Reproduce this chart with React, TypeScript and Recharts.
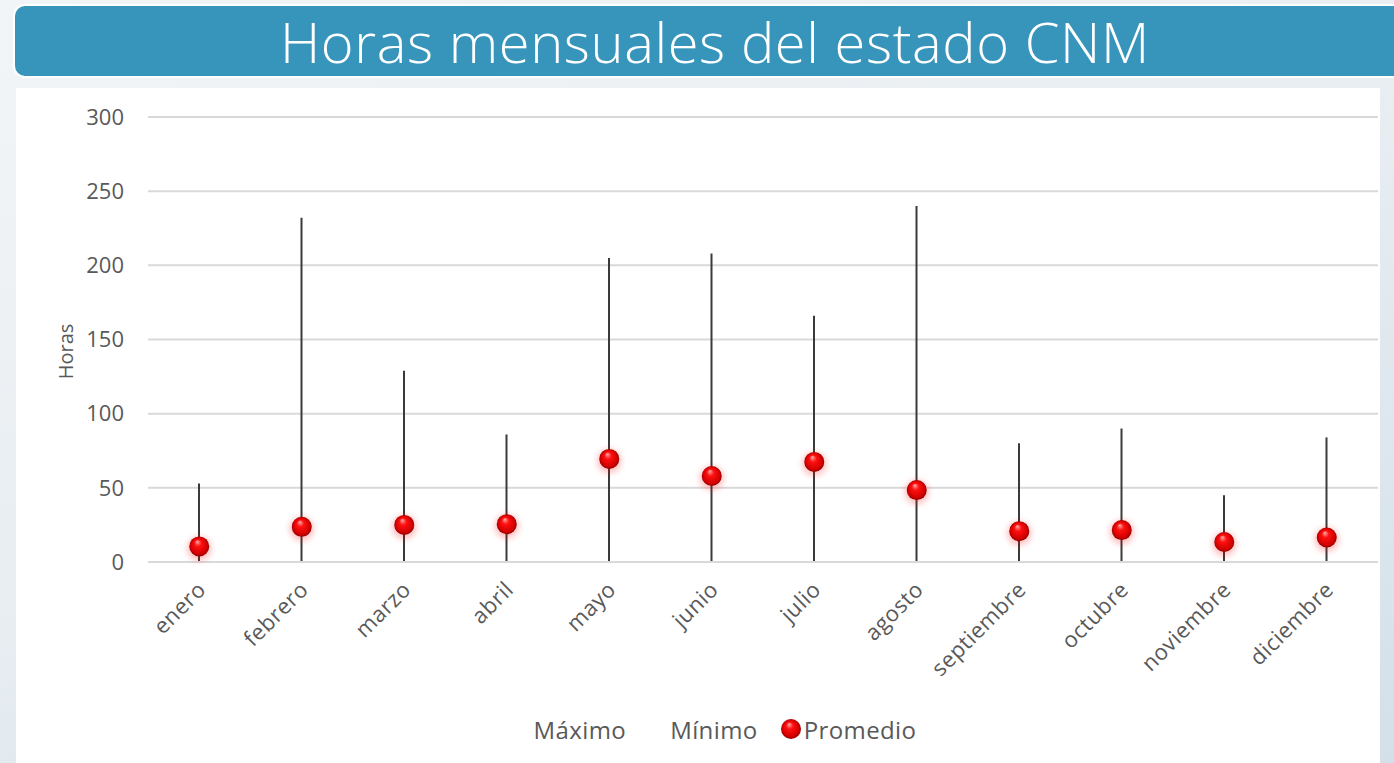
import React from 'react';
import { ComposedChart, Bar, Scatter, XAxis, YAxis, CartesianGrid, Legend } from 'recharts';

// Monthly hours of the CNM state
const MONTHS = ['enero', 'febrero', 'marzo', 'abril', 'mayo', 'junio', 'julio', 'agosto', 'septiembre', 'octubre', 'noviembre', 'diciembre'];
const MAX_HOURS = [53, 232, 129, 86, 205, 208, 166, 240, 80, 90, 45, 84];
const MIN_HOURS = [0, 0, 0, 0, 0, 0, 0, 0, 0, 0, 0, 0];
const AVG_HOURS = [10.5, 23.7, 25, 25.5, 69.5, 58, 67.5, 48.5, 20.8, 21.5, 13.5, 16.5];
const Y_TICKS = [0, 50, 100, 150, 200, 250, 300];

const data = MONTHS.map((month, i) => ({
    month,
    max: MAX_HOURS[i],
    min: MIN_HOURS[i],
    avg: AVG_HOURS[i],
}));

const FONT = '"Open Sans", "DejaVu Sans", sans-serif';
const TEXT = '#595959';

const Sphere = ({ cx, cy, r = 10 }: { cx: number; cy: number; r?: number }) => (
    <g>
        <circle cx={cx} cy={cy + 2} r={r + 2} fill="#ff0000" opacity={0.25} filter="url(#glow)" />
        <circle cx={cx} cy={cy} r={r} fill="url(#sphere)" />
    </g>
);

const LegendContent = () => (
    <div style={{
        display: 'flex', justifyContent: 'center', alignItems: 'center',
        height: 60, marginTop: -4, paddingLeft: 56, fontFamily: FONT, fontSize: 24, color: TEXT,
        letterSpacing: 0.4,
    }}>
        <span style={{ marginRight: 44 }}>Máximo</span>
        <span style={{ marginRight: 22 }}>Mínimo</span>
        <svg width={22} height={22} style={{ marginRight: 2 }}>
            <defs>
                <radialGradient id="sphereLegend" cx="0.5" cy="0.5" r="0.5" fx="0.4" fy="0.25">
                    <stop offset="0" stopColor="#ffb0b0" />
                    <stop offset="0.35" stopColor="#ff1010" />
                    <stop offset="0.85" stopColor="#d00000" />
                    <stop offset="1" stopColor="#900000" />
                </radialGradient>
            </defs>
            <circle cx={11} cy={11} r={10} fill="url(#sphereLegend)" />
        </svg>
        <span>Promedio</span>
    </div>
);

export default function App() {
    return (
        <div style={{
            position: 'absolute', left: 0, top: 0, width: 1394, height: 763, overflow: 'hidden',
            background: 'linear-gradient(160deg, #f2f5f7 0%, #e9eef2 45%, #d3e0e9 100%)',
        }}>
            <div style={{
                position: 'absolute', left: 13, top: 4, width: 1400, height: 70,
                background: '#3795bc', border: '2px solid #ffffff', borderRadius: 12,
                display: 'flex', alignItems: 'center', boxSizing: 'content-box',
            }}>
                <div style={{
                    width: 1406, textAlign: 'center', color: '#ffffff',
                    fontFamily: FONT, fontWeight: 300, fontSize: 56, lineHeight: '70px',
                    letterSpacing: 0.6,
                }}>
                    Horas mensuales del estado CNM
                </div>
            </div>
            <div style={{ position: 'absolute', left: 16, top: 88, width: 1364, height: 675, background: '#ffffff' }}>
                <ComposedChart
                    width={1364}
                    height={675}
                    data={data}
                    margin={{ top: 29, right: 2, left: 0, bottom: 0 }}
                >
                    <defs>
                        <radialGradient id="sphere" cx="0.5" cy="0.5" r="0.5" fx="0.4" fy="0.25">
                            <stop offset="0" stopColor="#ffb0b0" />
                            <stop offset="0.35" stopColor="#ff1010" />
                            <stop offset="0.85" stopColor="#d00000" />
                            <stop offset="1" stopColor="#900000" />
                        </radialGradient>
                        <filter id="glow" x="-50%" y="-50%" width="200%" height="200%">
                            <feGaussianBlur stdDeviation="3" />
                        </filter>
                    </defs>
                    <CartesianGrid vertical={false} stroke="#d9d9d9" strokeWidth={2} />
                    <XAxis
                        dataKey="month"
                        height={141}
                        interval={0}
                        axisLine={{ stroke: '#d9d9d9', strokeWidth: 2 }}
                        tickLine={false}
                        angle={-45}
                        textAnchor="end"
                        tick={{ fill: TEXT, fontSize: 22, fontFamily: FONT, letterSpacing: 0.5 }}
                        tickMargin={12}
                        dx={-3}
                    />
                    <YAxis
                        width={132}
                        domain={[0, 300]}
                        ticks={Y_TICKS}
                        axisLine={false}
                        tickLine={false}
                        tickMargin={18}
                        tick={{ fill: TEXT, fontSize: 22, fontFamily: FONT }}
                        label={{
                            content: ({ viewBox }: any) => (
                                <text
                                    x={0}
                                    y={0}
                                    transform={`translate(${viewBox.x + 57}, ${viewBox.y + viewBox.height / 2 + 12}) rotate(-90)`}
                                    textAnchor="middle"
                                    fill={TEXT}
                                    fontSize={20}
                                    fontFamily={FONT}
                                >
                                    Horas
                                </text>
                            ),
                        }}
                    />
                    <Legend verticalAlign="bottom" height={60} content={<LegendContent />} />
                    <Bar
                        name="Máximo"
                        dataKey={(d: any) => [d.min, d.max]}
                        barSize={2}
                        fill="#3a3a3a"
                        isAnimationActive={false}
                    />
                    <Scatter
                        name="Promedio"
                        dataKey="avg"
                        isAnimationActive={false}
                        shape={(p: any) => <Sphere cx={p.cx} cy={p.cy} />}
                    />
                </ComposedChart>
            </div>
        </div>
    );
}
